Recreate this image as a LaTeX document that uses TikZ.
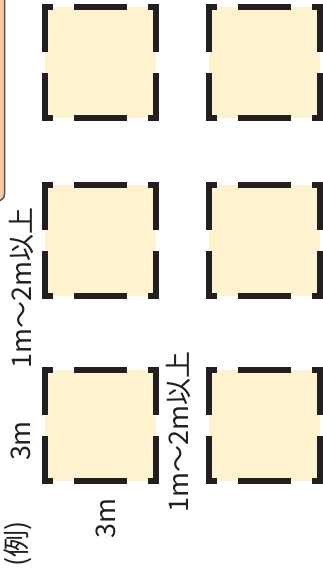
\documentclass[tikz,border=0pt]{standalone}
\usepackage{fontspec}
\newfontfamily\jpfont{Noto Sans CJK JP}
\definecolor{plotfill}{HTML}{FFF3CF}
\definecolor{plotline}{HTML}{231F20}
\definecolor{panelfill}{HTML}{F9C9A3}
\definecolor{panelline}{HTML}{555555}
\tikzset{
  plotarea/.style={fill=plotfill},
  plotedge/.style={draw=plotline,line width=6pt,line join=miter,dash pattern=on 53pt off 21pt,dash phase=63.5pt},
  panel/.style={fill=panelfill,draw=panelline,line width=1.5pt,rounded corners=7pt},
  lbl/.style={font=\jpfont\fontsize{27pt}{27pt}\selectfont,rotate=90,inner sep=0pt,text=plotline}
}
\begin{document}
\begin{tikzpicture}[x=1pt,y=-1pt]
  \useasboundingbox (0,0) rectangle (323,579);
  \clip (0,0) rectangle (323,579);
  \draw[panel] (-20,-20) rectangle (4.5,201);

  % plots, 2 columns x 3 rows
  \foreach \px in {45,209}
    \foreach \py in {7,185,370} {
      \fill[plotarea] (\px,\py) rectangle ++(111,111);
      \draw[plotedge] (\px,\py+55.5) |- (\px+111,\py) |- (\px,\py+111) -- cycle;
    }

  \node[lbl] (ex) at (18,544) {(例)};
  \node[lbl] (sideV) at (21,441) {3m};
  \node[lbl] (sideH) at (106,518) {3m};
  \node[lbl] (gapV) at (21,288) {1m〜2m以上};
  \node[lbl] (gapH) at (178,432) {1m〜2m以上};
\end{tikzpicture}
\end{document}
